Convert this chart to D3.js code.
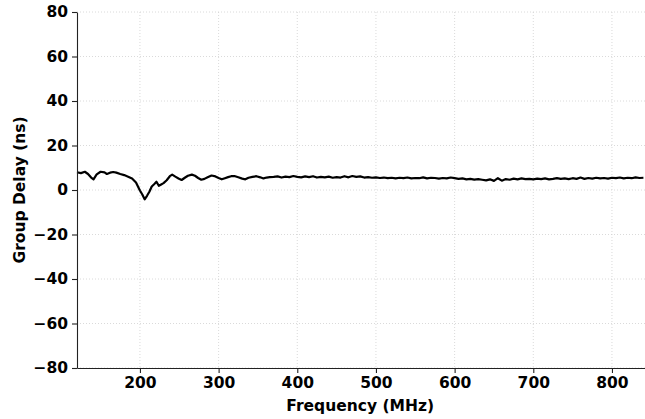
<!DOCTYPE html>
<html>
<head>
<meta charset="utf-8">
<script src="https://cdn.jsdelivr.net/npm/d3@7"></script>
<style>
  body { margin: 0; background: #fff; }
  text { font-family: "DejaVu Sans", sans-serif; font-weight: bold; }
</style>
</head>
<body>
<div id="chart"></div>
<script>
// Frequency samples (MHz)
const freqs = [120,125,130,134,138,141,145,150,155,158,162,166,170,175,180,185,190,195,200,203,
  206,209,212,215,218,221,224,227,230,234,238,241,245,249,253,257,261,266,270,274,
  278,282,286,291,296,300,304,308,312,316,320,325,330,334,338,343,348,353,357,361,
  365,370,375,380,385,390,395,400,405,410,415,420,425,430,435,440,445,450,455,460,
  465,470,475,480,485,490,495,500,505,510,515,520,525,530,535,540,545,550,555,560,
  565,570,575,580,585,590,595,600,605,610,615,620,625,630,635,640,645,650,655,660,
  665,670,675,680,685,690,695,700,705,710,715,720,725,730,735,740,745,750,755,760,
  765,770,775,780,785,790,795,800,805,810,815,820,825,830,835,840];

// Group delay (ns) at each frequency
const delays = [8.0,7.6,8.2,7.2,5.6,4.8,7.0,8.2,7.9,7.2,7.8,8.1,7.8,7.2,6.7,6.0,5.2,3.4,-0.2,-2.0,
  -4.2,-2.6,-0.8,1.6,2.6,3.7,1.9,2.5,3.1,4.4,6.2,6.9,6.0,5.2,4.5,5.5,6.4,6.9,6.4,5.4,
  4.6,5.0,5.7,6.5,6.1,5.4,4.8,5.3,5.8,6.2,6.3,5.7,5.1,4.8,5.5,5.9,6.2,5.7,5.2,5.6,
  5.8,5.9,6.1,5.6,6.0,5.8,6.3,5.9,5.7,6.1,5.8,6.2,5.6,5.9,5.7,6.0,5.5,5.8,5.6,6.2,
  5.7,6.3,5.9,6.1,5.6,5.8,5.5,5.7,5.4,5.6,5.3,5.5,5.2,5.5,5.3,5.6,5.2,5.4,5.3,5.7,
  5.2,5.5,5.4,5.1,5.4,5.2,5.6,5.3,5.0,5.2,4.8,5.0,4.7,4.9,4.6,4.3,4.8,4.1,5.3,4.2,
  4.9,4.6,5.1,4.8,5.2,4.9,5.0,4.8,5.1,4.9,5.2,4.8,5.0,5.3,5.0,5.2,4.9,5.3,5.0,5.6,
  5.0,5.4,5.1,5.5,5.2,5.4,5.1,5.5,5.3,5.6,5.2,5.5,5.3,5.7,5.4,5.5];

const xTicks = [200, 300, 400, 500, 600, 700, 800];
const yTicks = [-80, -60, -40, -20, 0, 20, 40, 60, 80];

const data = freqs.map((f, i) => ({ f: f, v: delays[i] }));

const W = 645, H = 419;
const margin = { top: 12, right: 0, bottom: 51, left: 77 },
    width = W - margin.left - margin.right,
    height = H - margin.top - margin.bottom;

const svg = d3.select("#chart")
    .append("svg")
    .attr("width", W)
    .attr("height", H);

const g = svg.append("g")
    .attr("transform", `translate(${margin.left},${margin.top})`);

const x = d3.scaleLinear().domain([120, 842]).range([0, width]);
const y = d3.scaleLinear().domain([-80, 80]).range([height, 0]);

// dotted grid
g.append("g")
    .selectAll("line")
    .data(xTicks)
    .enter().append("line")
    .attr("x1", d => x(d)).attr("x2", d => x(d))
    .attr("y1", 0).attr("y2", height)
    .attr("stroke", "#d0d0d0")
    .attr("stroke-width", 0.8)
    .attr("stroke-dasharray", "1,2");
g.append("g")
    .selectAll("line")
    .data(yTicks)
    .enter().append("line")
    .attr("x1", 0).attr("x2", width)
    .attr("y1", d => y(d)).attr("y2", d => y(d))
    .attr("stroke", "#d0d0d0")
    .attr("stroke-width", 0.8)
    .attr("stroke-dasharray", "1,2");

// the trace
const line = d3.line()
    .x(d => x(d.f))
    .y(d => y(d.v));
g.append("path")
    .datum(data)
    .attr("fill", "none")
    .attr("stroke", "#000")
    .attr("stroke-width", 2.2)
    .attr("stroke-linejoin", "round")
    .attr("d", line);

// axes
const xAxis = g.append("g")
    .attr("transform", `translate(0,${height})`)
    .call(d3.axisBottom(x).tickValues(xTicks).tickSize(5).tickPadding(4).tickSizeOuter(0));
const yAxis = g.append("g")
    .call(d3.axisLeft(y).tickValues(yTicks).tickSize(5).tickPadding(4).tickSizeOuter(0)
        .tickFormat(d => d < 0 ? "\u2212" + Math.abs(d) : d));

[xAxis, yAxis].forEach(a => {
    a.select(".domain").attr("stroke", "#222").attr("stroke-width", 1.1);
    a.selectAll(".tick line").attr("stroke", "#222").attr("stroke-width", 1.1);
    a.selectAll(".tick text")
        .attr("fill", "#000")
        .style("font-size", "15.5px")
        .style("font-family", "DejaVu Sans")
        .style("font-weight", "bold");
});

// axis titles
svg.append("text")
    .attr("x", margin.left + x(480))
    .attr("y", 411)
    .attr("text-anchor", "middle")
    .style("font-size", "15.5px")
    .text("Frequency (MHz)");

svg.append("text")
    .attr("transform", `translate(25,${margin.top + y(0)}) rotate(-90)`)
    .attr("text-anchor", "middle")
    .style("font-size", "15.5px")
    .text("Group Delay (ns)");
</script>
</body>
</html>
